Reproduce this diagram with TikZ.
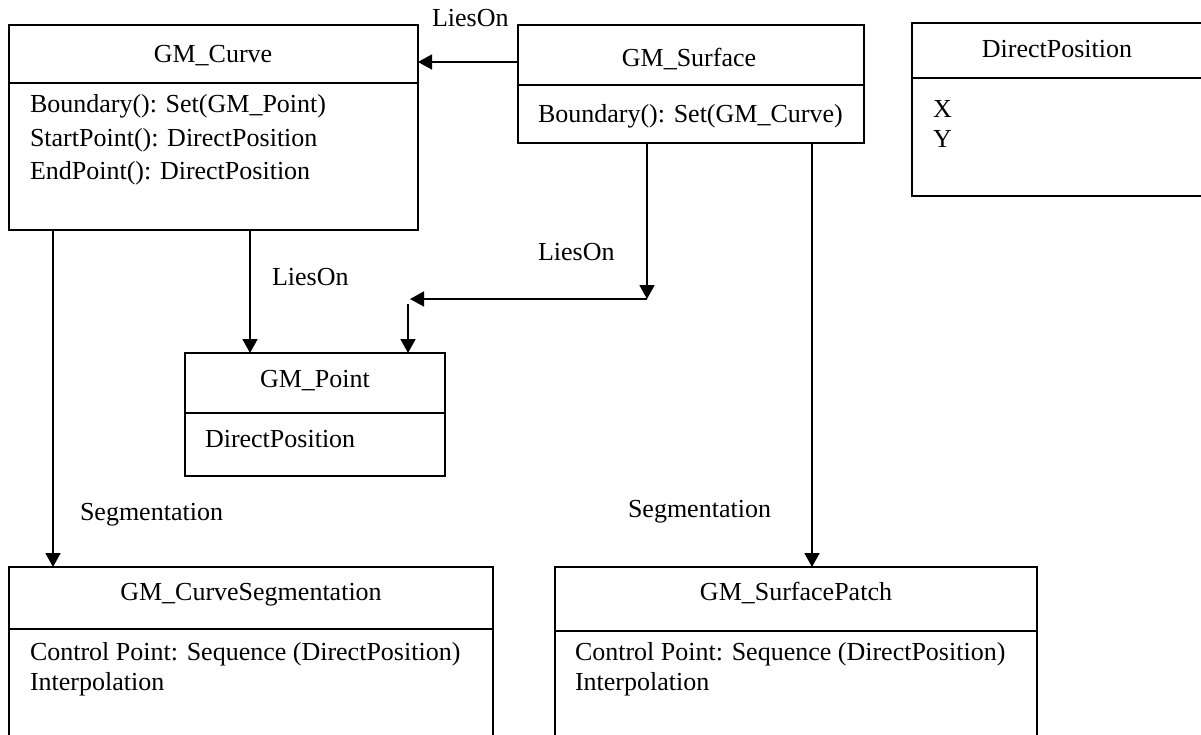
\documentclass[tikz,border=0pt]{standalone}
\usepackage{fontspec}
\setmainfont{Liberation Serif}
\usetikzlibrary{arrows.meta}
\begin{document}
\begin{tikzpicture}[x=1pt,y=-1pt,
  umlbox/.style={draw, line width=1.8pt, rectangle, anchor=north west, inner sep=0pt, outer sep=0pt},
  divider/.style={line width=1.8pt},
  txt/.style={inner sep=0pt, outer sep=0pt, font=\fontsize{26}{30}\selectfont},
  title/.style={txt, anchor=base},
  attr/.style={txt, anchor=base west},
  lbl/.style={txt, anchor=base west},
  arr/.style={line width=1.8pt, -{Triangle[length=14pt,width=15pt]}}]
\useasboundingbox (0,0) rectangle (1201,734);
\clip (0,0) rectangle (1201,734);

% class boxes
\node[umlbox, minimum width=409pt, minimum height=205pt] (curve) at (9,25) {};
\node[umlbox, minimum width=346pt, minimum height=118pt] (surface) at (518,25) {};
\node[umlbox, minimum width=291pt, minimum height=173pt] (dirpos) at (912,23) {};
\node[umlbox, minimum width=260pt, minimum height=123pt] (point) at (185,353) {};
\node[umlbox, minimum width=484pt, minimum height=180pt] (curveseg) at (9,567) {};
\node[umlbox, minimum width=482pt, minimum height=180pt] (patch) at (555,567) {};

% dividers
\draw[divider] (curve.west |- 0,83) -- (curve.east |- 0,83);
\draw[divider] (surface.west |- 0,85) -- (surface.east |- 0,85);
\draw[divider] (dirpos.west |- 0,78) -- (dirpos.east |- 0,78);
\draw[divider] (point.west |- 0,413) -- (point.east |- 0,413);
\draw[divider] (curveseg.west |- 0,629) -- (curveseg.east |- 0,629);
\draw[divider] (patch.west |- 0,631) -- (patch.east |- 0,631);

% titles
\node[title] (tcurve) at (213,62) {GM\_Curve};
\node[title] (tsurface) at (689,66) {GM\_Surface};
\node[title] (tdirpos) at (1057,57) {DirectPosition};
\node[title] (tpoint) at (315,387) {GM\_Point};
\node[title] (tcurveseg) at (251,600) {GM\_CurveSegmentation};
\node[title] (tpatch) at (796,600) {GM\_SurfacePatch};

% attributes
\node[attr] (a1) at (30,112) {Boundary(): Set(GM\_Point)};
\node[attr] (a2) at (30,146) {StartPoint(): DirectPosition};
\node[attr] (a3) at (30,179) {EndPoint(): DirectPosition};
\node[attr] (a4) at (538,122) {Boundary(): Set(GM\_Curve)};
\node[attr] (a5) at (933,117) {X};
\node[attr] (a6) at (933,147) {Y};
\node[attr] (a7) at (205,447) {DirectPosition};
\node[attr] (a8) at (30,660) {Control Point: Sequence (DirectPosition)};
\node[attr] (a9) at (30,690) {Interpolation};
\node[attr] (a10) at (575,660) {Control Point: Sequence (DirectPosition)};
\node[attr] (a11) at (575,690) {Interpolation};

% connector helper coordinates
\coordinate (h1) at (647,299);
\coordinate (h2) at (410,299);
\coordinate (h3) at (408,304);

% connectors
\draw[arr] (surface.west |- 0,62) -- (curve.east |- 0,62);
\draw[arr] (curve.south -| 250,0) -- (point.north -| 250,0);
\draw[arr] (curve.south -| 53,0) -- (curveseg.north -| 53,0);
\draw[arr] (surface.south -| 812,0) -- (patch.north -| 812,0);
\draw[arr] (surface.south -| h1) -- (h1);
\draw[arr] (h1) -- (h2);
\draw[arr] (h3) -- (point.north -| h3);

% labels
\node[lbl] (l1) at (432,26) {LiesOn};
\node[lbl] (l2) at (272,285) {LiesOn};
\node[lbl] (l3) at (538,260) {LiesOn};
\node[lbl] (l4) at (80,520) {Segmentation};
\node[lbl] (l5) at (628,517) {Segmentation};
\end{tikzpicture}
\end{document}
